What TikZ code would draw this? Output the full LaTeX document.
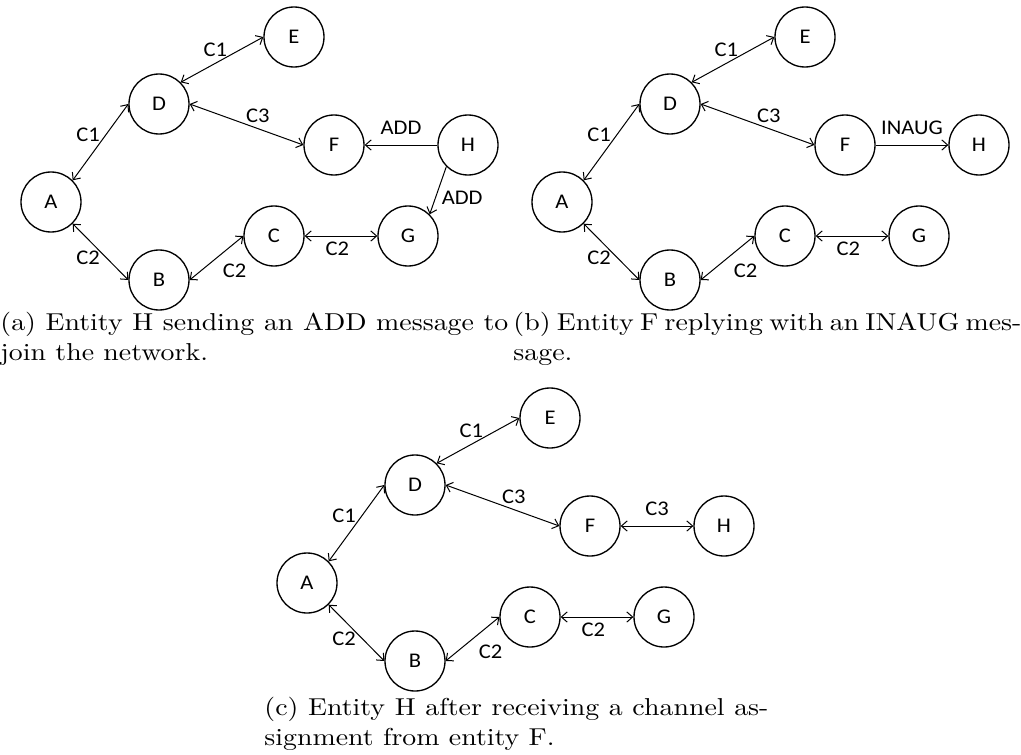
\documentclass[tikz,border=0pt]{standalone}
\usepackage{fontspec}
\setmainfont{Latin Modern Roman}[FakeStretch=1.14]
\newfontfamily\lblfont{Carlito}[FakeStretch=1.08]
\usetikzlibrary{arrows.meta}
\tikzset{
	ent/.style={circle, draw, line width=0.6pt, minimum size=27pt, inner sep=0pt, font=\lblfont\fontsize{9.4}{11}\selectfont},
	chan/.style={line width=0.45pt},
	lbl/.style={font=\lblfont\fontsize{9.4}{11}\selectfont, inner sep=2.6pt},
	capt/.style={anchor=base west, inner sep=0pt, text width=228.6pt, align=justify, font=\fontsize{11}{13.5}\selectfont},
}
\begin{document}
\begin{tikzpicture}[x=0.45pt, y=-0.45pt, >={Straight Barb[length=2.6pt,width=4.6pt]}]
	\useasboundingbox (0,0) rectangle (1021,754);
	% the same network three times
	\foreach \g/\at in {a/{51,202}, b/{562,202}, c/{307,583}}{
		\begin{scope}[shift={(\at)}, name prefix=\g-]
			\path
				(0,0) node[ent] (A) {A}
				(108,-98) node[ent] (D) {D}
				(243,-165) node[ent] (E) {E}
				(283,-57) node[ent] (F) {F}
				(417,-57) node[ent] (H) {H}
				(357,34) node[ent] (G) {G}
				(223,34) node[ent] (C) {C}
				(108,78) node[ent] (B) {B}
			;
			\draw[chan, <->] (A.north east) -- node[lbl, pos=.6, left] (lAD) {C1} (D.west);
			\draw[chan, <->] (D.north east) -- node[lbl, pos=.42, above] (lDE) {C1} (E.west);
			\draw[chan, <->] (D.east) -- node[lbl, pos=.6, above] (lDF) {C3} (F.west);
			\draw[chan, <->] (A.south east) -- node[lbl, pos=.6, left] (lAB) {C2} (B.west);
			\draw[chan, <->] (B.east) -- node[lbl, pos=.5, below right] (lBC) {C2} (C.west);
			\draw[chan, <->] (C.east) -- node[lbl, pos=.45, below] (lCG) {C2} (G.west);
		\end{scope}
	}
	% messages
	\draw[chan, ->] (a-H.west) -- node[lbl, midway, above=2pt] (a-lHF) {ADD} (a-F.east);
	\draw[chan, ->] (a-H.south west) -- node[lbl, pos=.65, right] (a-lHG) {ADD} (a-G.north east);
	\draw[chan, ->] (b-F.east) -- node[lbl, midway, above=2pt] (b-lFH) {INAUG} (b-H.west);
	\draw[chan, <->] (c-F.east) -- node[lbl, midway, above=2pt] (c-lFH) {C3} (c-H.west);
	% captions
	\node[capt] (capa) at (0,330) {(a) Entity H sending an ADD message to\linebreak join the network.};
	\node[capt] (capb) at (513,330) {(b) Entity F replying with an INAUG mes-\linebreak sage.};
	\node[capt, text width=226.8pt] (capc) at (264,715) {(c) Entity H after receiving a channel as-\linebreak signment from entity F.};
\end{tikzpicture}
\end{document}
